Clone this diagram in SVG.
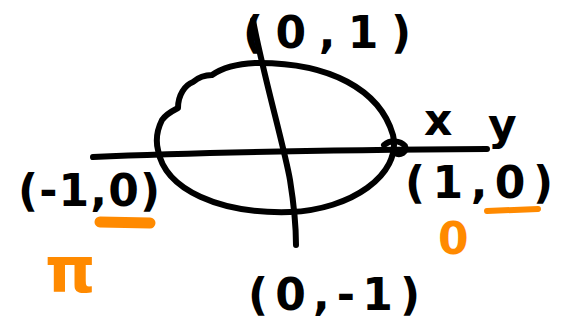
<svg xmlns="http://www.w3.org/2000/svg" width="562" height="326" viewBox="0 0 562 326">
<style>
.ink{fill:none;stroke:#000;stroke-width:6;stroke-linecap:round;stroke-linejoin:round}
.or{fill:none;stroke:#ff8a00;stroke-linecap:round;stroke-linejoin:round}
.t{font-family:"DejaVu Sans",sans-serif;font-size:44px;font-weight:bold;fill:#000}
.to{font-family:"DejaVu Sans",sans-serif;font-weight:bold;fill:#ff8a00}
</style>
<rect width="562" height="326" fill="#fff"/>
<g id="circle">
<path class="ink" d="M255,63 C330,62 380,90 393,135 C402,175 350,210 290,212 C220,214 165,190 158,150 C155,138 158,128 162,120 C168,112 175,110 178,108 C178,95 185,85 193,82 C200,76 208,75 212,75 C222,68 235,64 255,63 Z"/>
</g>
<g id="axes">
<path class="ink" d="M93,157 C200,152 330,150 487,149"/>
<path class="ink" d="M253,20 C262,70 285,150 290,180 C294,205 296,225 296,245"/>
<path class="ink" d="M384,145 C390,140 400,140 405,146 C408,152 400,156 395,153"/>
</g>
<g id="labels">
<text class="t" x="243" y="48" textLength="168" lengthAdjust="spacing">(0,1)</text>
<text class="t" x="18" y="206" textLength="142" lengthAdjust="spacing">(-1,0)</text>
<text class="t" x="405" y="198" textLength="148" lengthAdjust="spacing">(1,0)</text>
<text class="t" x="248" y="310" textLength="172" lengthAdjust="spacing">(0,-1)</text>
<text class="t" x="424" y="135">x</text>
<text class="t" x="488" y="140">y</text>
</g>
<g id="annotations">
<path class="or" stroke-width="11" d="M100,222 L150,223"/>
<path class="or" stroke-width="6" d="M487,211 L538,209"/>
<text class="to" x="45" y="292" font-size="64">π</text>
<text class="to" x="438" y="254" font-size="44">0</text>
</g>
</svg>
